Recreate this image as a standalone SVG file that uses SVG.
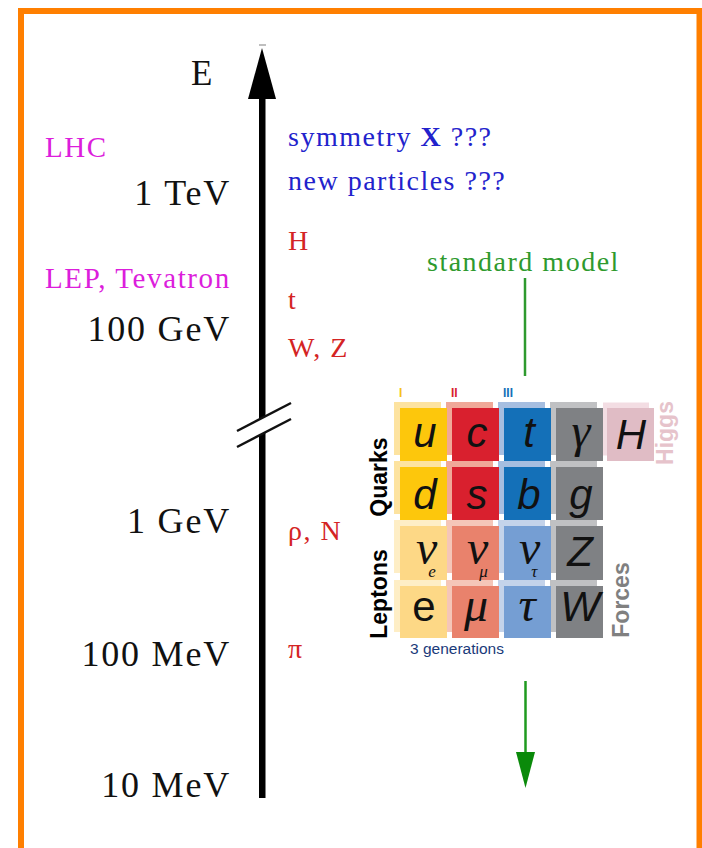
<svg xmlns="http://www.w3.org/2000/svg" width="702" height="848" viewBox="0 0 702 848">
<defs>
<style>
.serif{font-family:"Liberation Serif","Times New Roman",serif;}
.big{font-size:36px;letter-spacing:1.8px;fill:#111;text-anchor:end;}
.med{font-size:28px;letter-spacing:1.5px;}
.mag{fill:#dc1edc;font-size:29px;letter-spacing:1.6px;}
.blu{fill:#2222cc;}
.red{fill:#d42424;}
.grn{fill:#2e9a2e;}
.sym{font-family:"Liberation Sans",Arial,sans-serif;font-style:italic;font-size:42px;fill:#111;text-anchor:middle;}
.up{font-style:normal;}
.gk{font-family:"Liberation Serif","Times New Roman",serif;font-style:italic;font-size:48px;fill:#111;text-anchor:middle;}
.nu{font-family:"Liberation Serif","Times New Roman",serif;font-style:italic;font-size:48px;fill:#111;}
.sub{font-size:17px;}
.vert{font-family:"Liberation Sans",Arial,sans-serif;font-weight:bold;font-size:23px;text-anchor:middle;}
.gen{font-family:"Liberation Sans",Arial,sans-serif;font-size:12px;font-weight:bold;}
.yl{fill:#fde3a0;} .yd{fill:#fdc70c;}
.rl{fill:#f0a898;} .rd{fill:#d9202e;}
.bl{fill:#a6bee0;} .bd{fill:#1470b8;}
.gl{fill:#c0c1c3;} .gd{fill:#7f8184;}
.yl2{fill:#feeec6;} .yd2{fill:#fdd886;}
.rl2{fill:#f5c6b8;} .rd2{fill:#e9826c;}
.bl2{fill:#c4d3ea;} .bd2{fill:#759ed3;}
.pl{fill:#f3dde3;} .pd{fill:#e0bcc5;}
</style>
</defs>
<rect x="0" y="0" width="702" height="848" fill="#ffffff"/>
<rect x="21" y="11" width="678.5" height="860" fill="none" stroke="#ff7f00" stroke-width="6"/>

<g id="axis">
  <line x1="259" y1="45" x2="266" y2="45" stroke="#aaaaaa" stroke-width="1.5"/>
  <polygon points="262,48 248,99 276,99" fill="#000"/>
  <polygon points="259,98 265.5,98 265.5,416.5 259,419.8" fill="#000"/>
  <polygon points="259,435.6 265.5,432.2 265.5,798 259,798" fill="#000"/>
  <line x1="237" y1="431" x2="291" y2="403" stroke="#111" stroke-width="2.5"/>
  <line x1="237" y1="447" x2="291" y2="419" stroke="#111" stroke-width="2.5"/>
  <text class="serif" x="191" y="85" font-size="35" fill="#111">E</text>
</g>

<g id="energy-labels" class="serif">
  <text class="big" x="231" y="205">1 TeV</text>
  <text class="big" x="231" y="341">100 GeV</text>
  <text class="big" x="231" y="533">1 GeV</text>
  <text class="big" x="231" y="666">100 MeV</text>
  <text class="big" x="231" y="797">10 MeV</text>
</g>

<g id="colliders" class="serif">
  <text class="mag" x="45" y="157">LHC</text>
  <text class="mag" x="45" y="288">LEP, Tevatron</text>
</g>

<g id="particles-axis" class="serif">
  <text class="med blu" x="288" y="146">symmetry <tspan font-weight="bold">X</tspan> ???</text>
  <text class="med blu" x="288" y="190">new particles ???</text>
  <text class="med red" x="288" y="250">H</text>
  <text class="med red" x="288" y="309">t</text>
  <text class="med red" x="288" y="357">W, Z</text>
  <text class="med red" x="288" y="540">ρ, N</text>
  <text class="med red" x="288" y="658">π</text>
</g>

<g id="standard-model-label" class="serif">
  <text class="med grn" x="427" y="271">standard model</text>
</g>

<g id="connectors">
  <line x1="525" y1="278" x2="525" y2="376" stroke="#2e9a2e" stroke-width="2.5"/>
  <line x1="525.5" y1="681" x2="525.5" y2="756" stroke="#1f9a1f" stroke-width="2.5"/>
  <polygon points="516,752 535,752 525.5,788" fill="#0a8a0a"/>
</g>

<g id="generations">
  <text class="gen" x="399" y="397" fill="#f6c21a">I</text>
  <text class="gen" x="451" y="397" fill="#d9202e">II</text>
  <text class="gen" x="503" y="397" fill="#1470b8">III</text>
</g>

<g id="cell-lights">
  <rect class="yl" x="394" y="402" width="47" height="53"/>
  <rect class="rl" x="446" y="402" width="47" height="53"/>
  <rect class="bl" x="498" y="402" width="47" height="53"/>
  <rect class="gl" x="550" y="402" width="47" height="53"/>
  <rect class="pl" x="603" y="402.5" width="46" height="53"/>
  <rect class="yl" x="394" y="461" width="47" height="53"/>
  <rect class="rl" x="446" y="461" width="47" height="53"/>
  <rect class="bl" x="498" y="461" width="47" height="53"/>
  <rect class="gl" x="550" y="461" width="47" height="53"/>
  <rect class="yl2" x="394" y="520" width="47" height="53"/>
  <rect class="rl2" x="446" y="520" width="47" height="53"/>
  <rect class="bl2" x="498" y="520" width="47" height="53"/>
  <rect class="gl" x="550" y="520" width="47" height="53"/>
  <rect class="yl2" x="394" y="580" width="47" height="52"/>
  <rect class="rl2" x="446" y="580" width="47" height="52"/>
  <rect class="bl2" x="498" y="580" width="47" height="52"/>
  <rect class="gl" x="550" y="580" width="47" height="52"/>
</g>

<g id="u"><rect class="yd" x="400" y="408" width="47" height="53"/><text class="sym" x="425" y="447">u</text></g>
<g id="c"><rect class="rd" x="452" y="408" width="47" height="53"/><text class="sym" x="477" y="447">c</text></g>
<g id="t"><rect class="bd" x="504" y="408" width="47" height="53"/><text class="sym" x="529" y="447">t</text></g>
<g id="gamma"><rect class="gd" x="556" y="408" width="47" height="53"/><text class="gk" x="581" y="447">γ</text></g>
<g id="H"><rect class="pd" x="607" y="408" width="47" height="53"/><text class="sym" x="631" y="449">H</text></g>

<g id="d"><rect class="yd" x="400" y="467" width="47" height="53"/><text class="sym" x="425" y="509">d</text></g>
<g id="s"><rect class="rd" x="452" y="467" width="47" height="53"/><text class="sym" x="477" y="509">s</text></g>
<g id="b"><rect class="bd" x="504" y="467" width="47" height="53"/><text class="sym" x="529" y="509">b</text></g>
<g id="g"><rect class="gd" x="556" y="467" width="47" height="53"/><text class="sym" x="581" y="509">g</text></g>

<g id="nu_e"><rect class="yd2" x="400" y="526" width="47" height="54"/><text class="nu" x="416" y="564">ν<tspan class="sub" dx="-9" dy="13">e</tspan></text></g>
<g id="nu_mu"><rect class="rd2" x="452" y="526" width="47" height="54"/><text class="nu" x="467" y="564">ν<tspan class="sub" dx="-9" dy="13">μ</tspan></text></g>
<g id="nu_tau"><rect class="bd2" x="504" y="526" width="47" height="54"/><text class="nu" x="519" y="564">ν<tspan class="sub" dx="-9" dy="13">τ</tspan></text></g>
<g id="Z"><rect class="gd" x="556" y="526" width="47" height="54"/><text class="sym" x="580" y="566">Z</text></g>

<g id="e"><rect class="yd2" x="400" y="586" width="47" height="52"/><text class="sym up" x="424" y="621">e</text></g>
<g id="mu"><rect class="rd2" x="452" y="586" width="47" height="52"/><text class="gk" x="476" y="621">μ</text></g>
<g id="tau"><rect class="bd2" x="504" y="586" width="47" height="52"/><text class="gk" x="527" y="621">τ</text></g>
<g id="W"><rect class="gd" x="556" y="586" width="47" height="52"/><text class="sym" x="580" y="621">W</text></g>

<g id="group-labels">
  <text class="vert" fill="#000" transform="translate(387,477) rotate(-90)">Quarks</text>
  <text class="vert" fill="#000" transform="translate(387,594) rotate(-90)">Leptons</text>
  <text class="vert" fill="#808080" transform="translate(629,600) rotate(-90)">Forces</text>
  <text class="vert" fill="#e6c3cb" font-size="20" transform="translate(672.5,433) rotate(-90)">Higgs</text>
  <text x="410" y="654" font-family="Liberation Sans, Arial, sans-serif" font-size="15.5" fill="#1a3a7a">3 generations</text>
</g>
</svg>
